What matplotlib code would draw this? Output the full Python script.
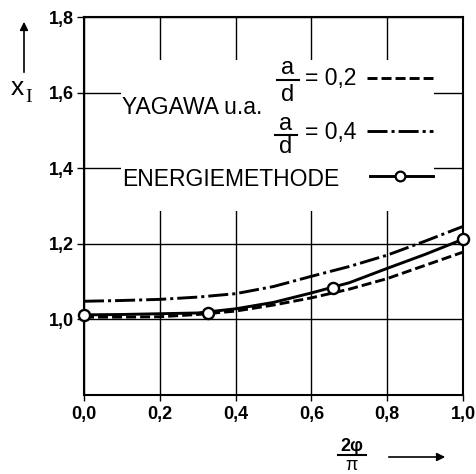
import matplotlib
matplotlib.use("Agg")
import matplotlib.pyplot as plt
from matplotlib.lines import Line2D
from matplotlib.patches import Rectangle, FancyArrowPatch

plt.rcParams['font.family'] = ['Liberation Sans', 'DejaVu Sans']
plt.rcParams['lines.scale_dashes'] = False

# ---- data ----
x_curve = [0.0, 0.1, 0.2, 0.3, 0.4, 0.5, 0.6, 0.7, 0.8, 0.9, 1.0]
yagawa_02 = [1.006, 1.006, 1.007, 1.013, 1.022, 1.038, 1.057, 1.080, 1.108, 1.143, 1.178]
yagawa_04 = [1.048, 1.050, 1.053, 1.059, 1.068, 1.087, 1.114, 1.140, 1.170, 1.207, 1.246]
energie_line = [1.012, 1.013, 1.015, 1.017, 1.028, 1.045, 1.070, 1.097, 1.135, 1.172, 1.212]
energie_x = [0.0, 0.328, 0.656, 1.0]
energie_y = [1.012, 1.018, 1.084, 1.212]

xticks = [0.0, 0.2, 0.4, 0.6, 0.8, 1.0]
xticklabels = ['0,0', '0,2', '0,4', '0,6', '0,8', '1,0']
yticks = [1.0, 1.2, 1.4, 1.6, 1.8]
yticklabels = ['1,0', '1,2', '1,4', '1,6', '1,8']

W, H = 477, 474
fig = plt.figure(figsize=(W / 100, H / 100), dpi=100)
ax = fig.add_axes([84 / W, 1 - 395 / H, (463 - 84) / W, (395 - 17) / H])

ax.set_xlim(0, 1)
ax.set_ylim(0.8, 1.8)
ax.set_xticks(xticks)
ax.set_xticklabels(xticklabels, fontsize=13, fontweight='bold')
ax.set_yticks(yticks)
ax.set_yticklabels(yticklabels, fontsize=13, fontweight='bold')
ax.tick_params(axis='x', direction='out', length=4, width=1, pad=4, colors='black')
ax.tick_params(axis='y', direction='out', length=5, width=1, pad=2, colors='black')
for s in ax.spines.values():
    s.set_linewidth(1.5)

ax.grid(True, color='black', linewidth=1.0, zorder=0.5)
ax.set_axisbelow(True)

# blank area behind the legend text (grid is interrupted there)
ax.add_patch(Rectangle((0.098, 0.487), 0.825, 0.399, transform=ax.transAxes,
                       facecolor='white', edgecolor='none', zorder=1))

lw = 2.1
dash_02 = (0, (7.2, 2.9))
dash_04 = (0, (14.4, 2.9, 2.2, 2.9))

ax.plot(x_curve, yagawa_02, color='black', lw=lw, linestyle=dash_02, zorder=3)
ax.plot(x_curve, yagawa_04, color='black', lw=lw, linestyle=dash_04, zorder=3)
ax.plot(x_curve, energie_line, color='black', lw=lw, zorder=3)
ax.plot(energie_x, energie_y, linestyle='none', marker='o', ms=8,
        mfc='white', mec='black', mew=1.7, zorder=4, clip_on=False)

def ax_x(px):
    return (px - 84) / 379

def ax_y(py):
    return (395 - py) / 378

# legend texts
ax.text(ax_x(122), ax_y(107), 'YAGAWA u.a.', fontsize=16.5, ha='left', va='center',
        transform=ax.transAxes, zorder=5)
ax.text(ax_x(122), ax_y(179), 'ENERGIEMETHODE', fontsize=16.5, ha='left', va='center',
        transform=ax.transAxes, zorder=5)

for (cx, ya, ybar, yd, ytxt, label) in [(288, 68, 80, 95, 79, '= 0,2'),
                                        (286, 124, 135, 147, 132, '= 0,4')]:
    ax.text(ax_x(cx), ax_y(ya), 'a', fontsize=17, ha='center', va='center',
            transform=ax.transAxes, zorder=5)
    ax.text(ax_x(cx), ax_y(yd), 'd', fontsize=17, ha='center', va='center',
            transform=ax.transAxes, zorder=5)
    ax.add_line(Line2D([ax_x(cx - 11), ax_x(cx + 11)], [ax_y(ybar), ax_y(ybar)],
                       color='black', lw=1.5, transform=ax.transAxes, zorder=5))
    ax.text(ax_x(305), ax_y(ytxt), label, fontsize=16.5, ha='left', va='center',
            transform=ax.transAxes, zorder=5)

# legend line samples
ax.add_line(Line2D([ax_x(367), ax_x(433)], [ax_y(78), ax_y(78)], color='black', lw=lw,
                   linestyle=dash_02, transform=ax.transAxes, zorder=5))
ax.add_line(Line2D([ax_x(367), ax_x(433)], [ax_y(131), ax_y(131)], color='black', lw=lw,
                   linestyle=dash_04, transform=ax.transAxes, zorder=5))
ax.add_line(Line2D([ax_x(370), ax_x(433)], [ax_y(176), ax_y(176)], color='black', lw=lw,
                   transform=ax.transAxes, zorder=5))
ax.add_line(Line2D([ax_x(400)], [ax_y(176)], color='black', linestyle='none', marker='o',
                   ms=7, mfc='white', mec='black', mew=1.6, transform=ax.transAxes, zorder=6))

# y axis label x_I with arrow
fig.text(17.5 / W, 1 - 88 / H, 'x', fontsize=19, ha='center', va='center')
fig.text(29 / W, 1 - 97 / H, 'I', fontsize=14, ha='center', va='center',
         family=['Liberation Serif', 'DejaVu Serif'])
fig.add_artist(FancyArrowPatch(
    (24 / W, 1 - 75 / H), (24 / W, 1 - 19 / H), transform=fig.transFigure,
    arrowstyle='-|>', mutation_scale=12, color='black', lw=1.2))

# x axis label 2phi/pi with arrow
fig.text(352 / W, 1 - 451 / H, '2φ', fontsize=13, fontweight='bold', ha='center', va='baseline')
fig.add_artist(Line2D([338 / W, 366 / W], [1 - 455 / H, 1 - 455 / H], color='black',
                      lw=1.5, transform=fig.transFigure))
fig.text(352 / W, 1 - 457 / H, 'π', fontsize=13, ha='center', va='top')
fig.add_artist(FancyArrowPatch(
    (386 / W, 1 - 457 / H), (448 / W, 1 - 457 / H), transform=fig.transFigure,
    arrowstyle='-|>', mutation_scale=12, color='black', lw=1.2))

fig.savefig('out.png', dpi=100)
